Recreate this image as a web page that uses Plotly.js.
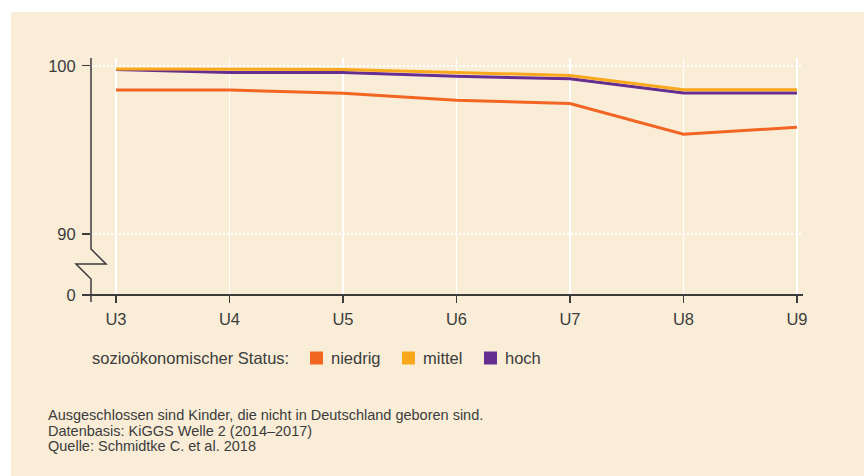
<!DOCTYPE html>
<html>
<head>
<meta charset="utf-8">
<script src="https://cdn.plot.ly/plotly-3.0.1.min.js"></script>
<style>
html,body{margin:0;padding:0;background:#ffffff;}
#chart{width:864px;height:476px;}
</style>
</head>
<body>
<div id="chart"></div>
<script>
// ---- data ----
const categories = ["U3", "U4", "U5", "U6", "U7", "U8", "U9"];
const niedrig = [98.56, 98.56, 98.36, 97.95, 97.76, 95.93, 96.34];
const mittel  = [99.80, 99.80, 99.78, 99.60, 99.42, 98.57, 98.57];
const hoch    = [99.78, 99.60, 99.60, 99.38, 99.22, 98.38, 98.38];
const seriesNames = ["niedrig", "mittel", "hoch"];
const yTickVals = [86.38, 90, 100];
const yTickText = ["0", "90", "100"];
const legendTitle = "sozioökonomischer Status:";
const notes = [
  "Ausgeschlossen sind Kinder, die nicht in Deutschland geboren sind.",
  "Datenbasis: KiGGS Welle 2 (2014–2017)",
  "Quelle: Schmidtke C. et al. 2018"
];

// ---- style ----
const colors = {niedrig: "#f26522", mittel: "#f9a81b", hoch: "#662d91"};
const bg = "#f9edd8";
const ink = "#3c3c3c";
const W = 864, H = 476;
const L = 91, R = 803, T = 58, B = 295;
const yRange = [86.38, 100.46];
const xRange = [-0.22, 6.053];

const px = x => (x - L) / (R - L);           // pixel x -> paper
const py = y => (B - y) / (B - T);           // pixel y -> paper

const dataMap = {niedrig, mittel, hoch};
const drawOrder = ["niedrig", "hoch", "mittel"];
const traces = drawOrder.map(n => ({
  type: "scatter", mode: "lines", name: n,
  x: categories, y: dataMap[n],
  line: {color: colors[n], width: 3},
  showlegend: false, hoverinfo: "skip"
}));

// panel + axis with break
const yBreakTop = py(249), yBreakMid = py(264), yBreakBot = py(279);
const shapes = [
  {type: "rect", xref: "paper", yref: "paper", x0: px(11), x1: px(866), y0: py(478), y1: py(12),
   fillcolor: bg, line: {width: 0}, layer: "below"},
  {type: "path", xref: "paper", yref: "paper",
   path: `M0,1 L0,${yBreakTop} L${px(106)},${yBreakMid} L${px(76)},${yBreakMid} L0,${yBreakBot} L0,${py(302)}`,
   line: {color: ink, width: 1.5}, layer: "above"},
  {type: "line", xref: "paper", yref: "paper", x0: px(83), x1: 1, y0: 0, y1: 0,
   line: {color: ink, width: 2}, layer: "above"}
];

const annotations = [];
// manual legend
annotations.push({xref: "paper", yref: "paper", x: px(90), y: py(358), xanchor: "left", yanchor: "middle",
  text: legendTitle, showarrow: false, font: {size: 16.5, color: ink}});
const legX = [310, 402, 484];
seriesNames.forEach((n, i) => {
  shapes.push({type: "rect", xref: "paper", yref: "paper",
    x0: px(legX[i]), x1: px(legX[i] + 13), y0: py(364.5), y1: py(351.5),
    fillcolor: colors[n], line: {width: 0}});
  annotations.push({xref: "paper", yref: "paper", x: px(legX[i] + 19), y: py(358),
    xanchor: "left", yanchor: "middle", text: n, showarrow: false,
    font: {size: 16.5, color: ink}});
});
const noteY = [415, 430.5, 446];
notes.forEach((t, i) => {
  annotations.push({xref: "paper", yref: "paper", x: px(46), y: py(noteY[i]),
    xanchor: "left", yanchor: "middle", text: t, showarrow: false,
    font: {size: 14.5, color: ink}});
});

const layout = {
  width: W, height: H,
  paper_bgcolor: "#ffffff", plot_bgcolor: bg,
  margin: {l: L, r: W - R, t: T, b: H - B, pad: 0},
  font: {family: "Liberation Sans, Arial, sans-serif", color: ink, size: 16},
  showlegend: false,
  xaxis: {
    type: "category", range: xRange, fixedrange: true,
    showgrid: true, gridcolor: "#ffffff", gridwidth: 1.5,
    showline: false, zeroline: false,
    ticks: "outside", ticklen: 7, tickwidth: 1.5, tickcolor: ink,
    tickfont: {size: 16.5, color: ink}, ticklabelstandoff: 2
  },
  yaxis: {
    range: yRange, fixedrange: true,
    tickmode: "array", tickvals: yTickVals, ticktext: yTickText,
    showgrid: true, gridcolor: "#ffffff", gridwidth: 2, griddash: "2px,2px",
    showline: false, zeroline: false,
    ticks: "outside", ticklen: 8, tickwidth: 1.5, tickcolor: ink,
    tickfont: {size: 16.5, color: ink}, ticklabelstandoff: 3
  },
  shapes, annotations
};

Plotly.newPlot("chart", traces, layout, {staticPlot: true, displayModeBar: false});
</script>
</body>
</html>
